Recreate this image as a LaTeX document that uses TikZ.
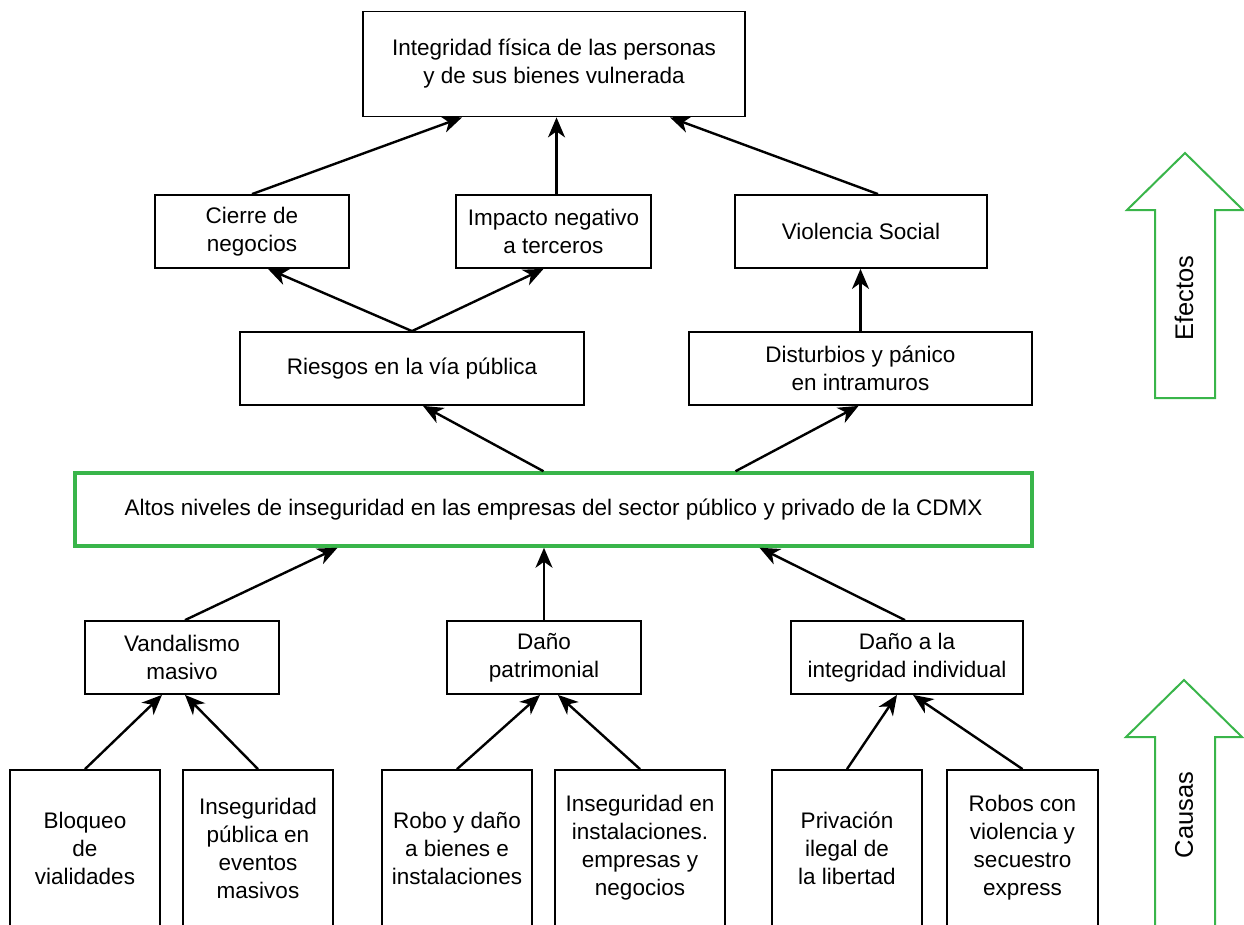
\documentclass[tikz,border=0pt]{standalone}
\usepackage{fontspec}
\setmainfont{Liberation Sans}
\usetikzlibrary{arrows.meta}
\definecolor{cgreen}{RGB}{57,181,74}
\begin{document}
\begin{tikzpicture}[x=1pt,y=-1pt,
  box/.style={draw=black,line width=1.8pt,align=center,inner sep=2pt,
    font=\fontsize{22.5}{28}\selectfont,minimum height=73pt},
  arr/.style={line width=2.4pt,-{Stealth[length=20pt,width=17pt,inset=6pt]}},
  bigarrow/.style={draw=cgreen,line width=2pt,fill=white},
  lab/.style={font=\fontsize{25.5}{30}\selectfont,rotate=90}]
\useasboundingbox (0,0) rectangle (1244,924);
\clip (0,0) rectangle (1244,924);
% effects
\node[box,minimum width=382pt,minimum height=105pt] (top) at (554,64) {Integridad física de las personas\\y de sus bienes vulnerada};
\node[box,minimum width=194pt] (cierre) at (252,231.5) {Cierre de\\negocios};
\node[box,minimum width=195pt] (impacto) at (553.5,231.5) {Impacto negativo\\a terceros};
\node[box,minimum width=252pt] (violencia) at (861,231.5) {Violencia Social};
\node[box,minimum width=344pt] (riesgos) at (412,368.5) {Riesgos en la vía pública};
\node[box,minimum width=343pt] (disturbios) at (860.5,368.5) {Disturbios y pánico\\en intramuros};
% main problem
\node[box,draw=cgreen,line width=3.5pt,minimum width=957pt] (main) at (553.5,509.5) {Altos niveles de inseguridad en las empresas del sector público y privado de la CDMX};
% causes
\node[box,minimum width=194pt] (vandalismo) at (182,657.5) {Vandalismo\\masivo};
\node[box,minimum width=194pt] (patrimonial) at (544,657.5) {Daño\\patrimonial};
\node[box,minimum width=232pt] (integridad) at (907,657.5) {Daño a la\\integridad individual};
\node[box,minimum width=150pt,minimum height=156pt] (b1) at (85,848) {Bloqueo\\de\\vialidades};
\node[box,minimum width=150pt,minimum height=156pt] (b2) at (258,848) {Inseguridad\\pública en\\eventos\\masivos};
\node[box,minimum width=150pt,minimum height=156pt] (b3) at (457,848) {Robo y daño\\a bienes e\\instalaciones};
\node[box,minimum width=170pt,minimum height=156pt] (b4) at (640,848) {Inseguridad en\\instalaciones.\\empresas y\\negocios};
\node[box,minimum width=150pt,minimum height=156pt] (b5) at (847,848) {Privación\\ilegal de\\la libertad};
\node[box,minimum width=151pt,minimum height=156pt] (b6) at (1022.5,848) {Robos con\\violencia y\\secuestro\\express};
% connectors
\draw[arr] (cierre.north) -- ([xshift=-92pt]top.south);
\draw[arr] ([xshift=3pt]impacto.north) -- ([xshift=3pt]impacto.north |- top.south);
\draw[arr] ([xshift=17pt]violencia.north) -- ([xshift=116pt]top.south);
\draw[arr] (riesgos.north) -- ([xshift=16pt]cierre.south);
\draw[arr] (riesgos.north) -- ([xshift=-10pt]impacto.south);
\draw[arr] (disturbios.north) -- (disturbios.north |- violencia.south);
\draw[arr] ([xshift=-10pt]main.north) -- ([xshift=11pt]riesgos.south);
\draw[arr] ([xshift=182pt]main.north) -- ([xshift=-2pt]disturbios.south);
\draw[arr] ([xshift=3pt]vandalismo.north) -- ([xshift=-216pt]main.south);
\draw[arr] (patrimonial.north) -- (patrimonial.north |- main.south);
\draw[arr] ([xshift=-2pt]integridad.north) -- ([xshift=206pt]main.south);
\draw[arr] (b1.north) -- ([xshift=-20pt]vandalismo.south);
\draw[arr] (b2.north) -- ([xshift=3pt]vandalismo.south);
\draw[arr] (b3.north) -- ([xshift=-4pt]patrimonial.south);
\draw[arr] (b4.north) -- ([xshift=14pt]patrimonial.south);
\draw[arr] (b5.north) -- ([xshift=-10pt]integridad.south);
\draw[arr] (b6.north) -- ([xshift=6pt]integridad.south);
% big arrows
\draw[bigarrow] (1185,153) -- (1243,210) -- (1215,210) -- (1215,398) -- (1155,398) -- (1155,210) -- (1127,210) -- cycle;
\node[lab] (efectos) at (1184,298) {Efectos};
\draw[bigarrow] (1184,680) -- (1242,737) -- (1215,737) -- (1215,940) -- (1155,940) -- (1155,737) -- (1126,737) -- cycle;
\node[lab] (causas) at (1184,815) {Causas};
\end{tikzpicture}
\end{document}
